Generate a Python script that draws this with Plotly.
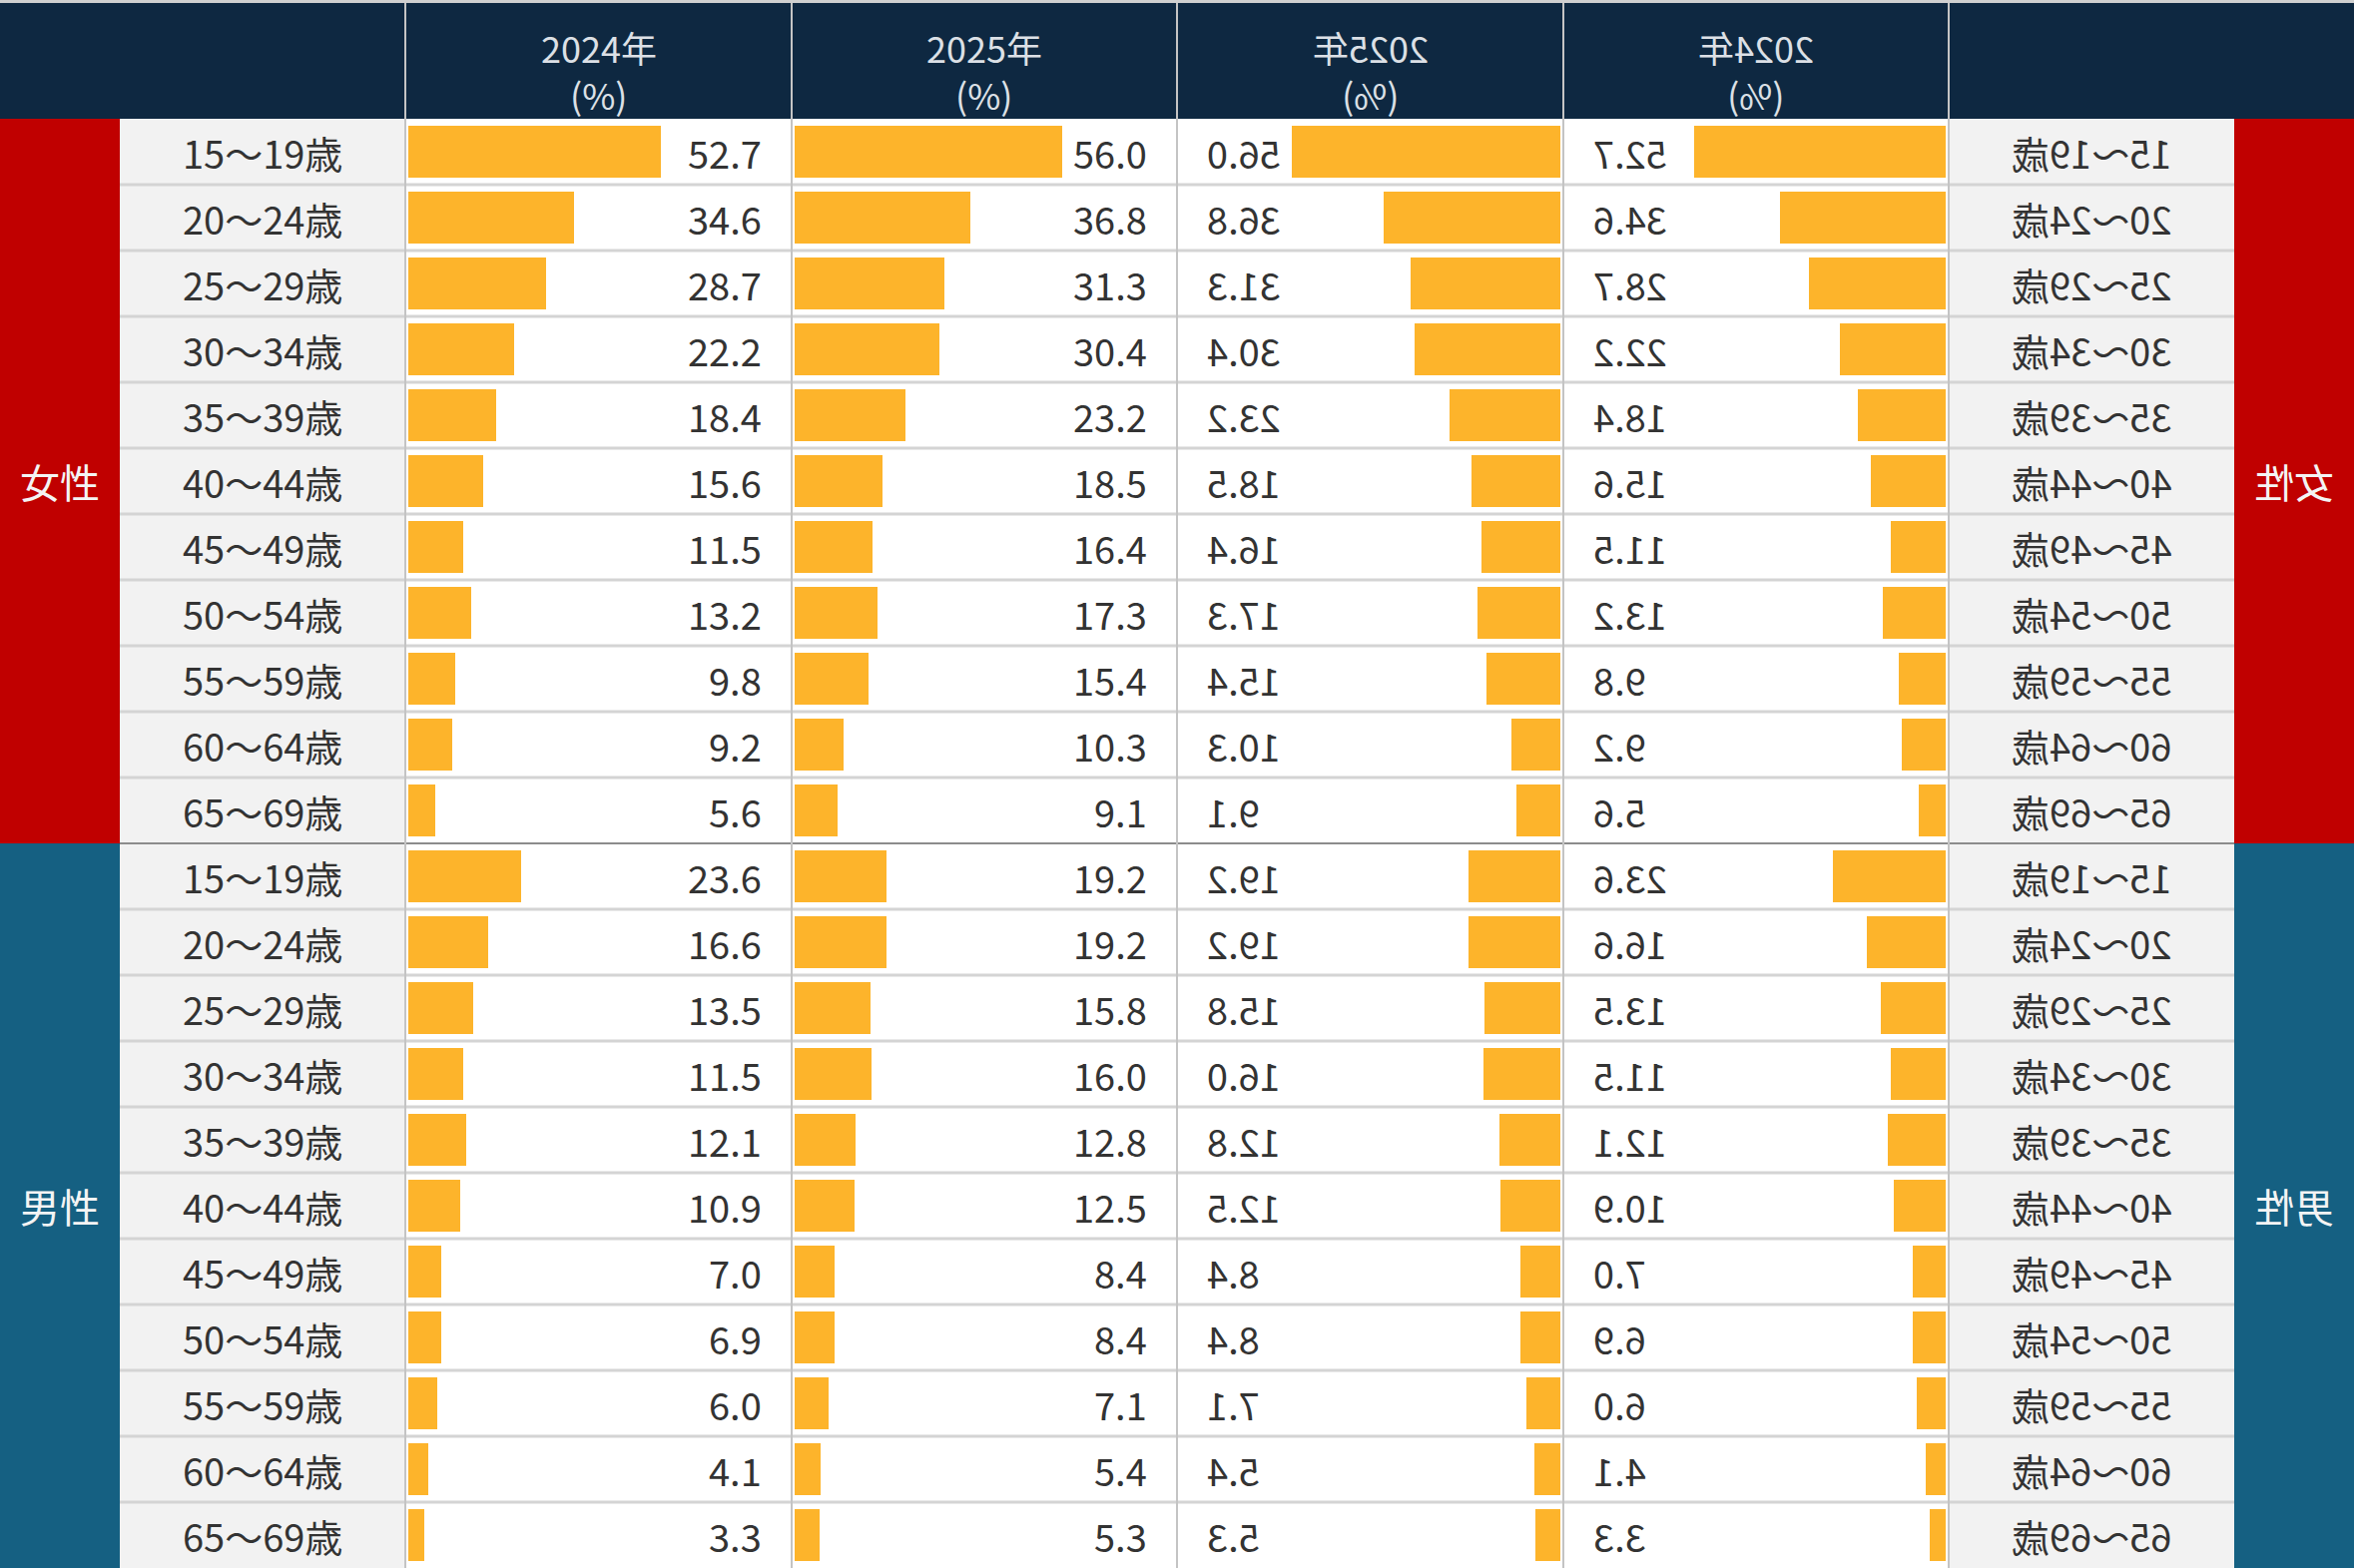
import plotly.graph_objects as go

# --- data ---
ages = ["15〜19歳", "20〜24歳", "25〜29歳", "30〜34歳", "35〜39歳", "40〜44歳",
        "45〜49歳", "50〜54歳", "55〜59歳", "60〜64歳", "65〜69歳"]
genders = ["女性", "男性"]
years = ["2024年", "2025年"]
unit = "(%)"

women_2024 = [52.7, 34.6, 28.7, 22.2, 18.4, 15.6, 11.5, 13.2, 9.8, 9.2, 5.6]
women_2025 = [56.0, 36.8, 31.3, 30.4, 23.2, 18.5, 16.4, 17.3, 15.4, 10.3, 9.1]
men_2024 = [23.6, 16.6, 13.5, 11.5, 12.1, 10.9, 7.0, 6.9, 6.0, 4.1, 3.3]
men_2025 = [19.2, 19.2, 15.8, 16.0, 12.8, 12.5, 8.4, 8.4, 7.1, 5.4, 5.3]

vals_2024 = women_2024 + men_2024
vals_2025 = women_2025 + men_2025
row_labels = ages + ages
rows = list(range(len(row_labels)))
n_w = len(ages)

# --- layout in pixels ---
W, H = 2358, 1571
HEADER = 119
edges = [0, 120, 406, 793, 1179, 1566, 1952, 2238, 2358]
top_rows = 1 - HEADER / H

NAVY = "#0E2841"
RED = "#C00000"
BLUE = "#156082"
BAR = "#FDB42B"
LABEL_BG = "#F2F2F2"
TEXT = "#333333"
FONT = "Noto Sans CJK JP, Noto Sans, sans-serif"


def px(x):
    return x / W


# column layout: (axis, values, year, mirrored)
cols = [
    ("x", vals_2024, years[0], False),
    ("x2", vals_2025, years[1], False),
    ("x3", vals_2025, years[1], True),
    ("x4", vals_2024, years[0], True),
]

fig = go.Figure()

for i, (ax, vals, yr, mirrored) in enumerate(cols):
    fig.add_trace(go.Bar(
        x=vals, y=rows, orientation="h",
        xaxis=ax, yaxis="y",
        width=0.78,
        marker=dict(color=BAR, line=dict(width=0)),
        name=yr, showlegend=False,
        hovertemplate="%{x:.1f}<extra></extra>",
    ))

shapes = []
# header background + top border
shapes.append(dict(type="rect", xref="paper", yref="paper", x0=0, x1=1,
                   y0=top_rows, y1=1, fillcolor=NAVY, line_width=0, layer="below"))
shapes.append(dict(type="rect", xref="paper", yref="paper", x0=0, x1=1,
                   y0=1 - 3 / H, y1=1, fillcolor="#D0D0D0", line_width=0, layer="below"))
# label column backgrounds
for a, b in [(edges[1], edges[2]), (edges[6], edges[7])]:
    shapes.append(dict(type="rect", xref="paper", yref="paper", x0=px(a), x1=px(b),
                       y0=0, y1=top_rows, fillcolor=LABEL_BG, line_width=0, layer="below"))
# gender blocks
for a, b in [(edges[0], edges[1]), (edges[7], edges[8])]:
    shapes.append(dict(type="rect", xref="paper", yref="y", x0=px(a), x1=px(b),
                       y0=-0.5, y1=n_w - 0.5, fillcolor=RED, line_width=0, layer="below"))
    shapes.append(dict(type="rect", xref="paper", yref="y", x0=px(a), x1=px(b),
                       y0=n_w - 0.5, y1=len(rows) - 0.5, fillcolor=BLUE, line_width=0, layer="below"))
# row lines
for r in range(len(rows) - 1):
    sep = r == n_w - 1
    shapes.append(dict(type="line", xref="paper", yref="y", x0=px(edges[1]), x1=px(edges[7]),
                       y0=r + 0.5, y1=r + 0.5, layer="below",
                       line=dict(color="#8C8C8C" if sep else "#D4D4D4", width=2 if sep else 3)))
# column lines
for e in edges[2:7]:
    shapes.append(dict(type="line", xref="paper", yref="paper", x0=px(e), x1=px(e),
                       y0=0, y1=1 - 3 / H, layer="below",
                       line=dict(color="#C4C4C4", width=2)))

annotations = []
flip = []


def add_ann(mirror=False, **kw):
    if mirror:
        flip.append(len(annotations))
    annotations.append(kw)


# header text, two lines kept as separate texts
for i, (ax, vals, yr, mirrored) in enumerate(cols):
    cx = (edges[2 + i] + edges[3 + i]) / 2
    for txt, ty in [(yr, 47), (unit, 94)]:
        add_ann(mirror=mirrored, xref="paper", yref="paper", x=px(cx), y=1 - ty / H,
                text=txt, showarrow=False, xanchor="center", yanchor="middle",
                font=dict(family=FONT, size=36, color="#DCE0E6"))

# gender text
for side, (a, b) in enumerate([(edges[0], edges[1]), (edges[7], edges[8])]):
    for g, gname in enumerate(genders):
        add_ann(mirror=side == 1, xref="paper", yref="y", x=px((a + b) / 2),
                y=g * n_w + (n_w - 1) / 2,
                text=gname, showarrow=False, xanchor="center", yanchor="middle",
                font=dict(family=FONT, size=40, color="#F4F4F4"))

# age labels
for side, (a, b) in enumerate([(edges[1], edges[2]), (edges[6], edges[7])]):
    for r, lab in zip(rows, row_labels):
        add_ann(mirror=side == 1, xref="paper", yref="y", x=px((a + b) / 2), y=r,
                text=lab, showarrow=False, xanchor="center", yanchor="middle",
                font=dict(family=FONT, size=38, color=TEXT))

# value labels
for i, (ax, vals, yr, mirrored) in enumerate(cols):
    for r, v in zip(rows, vals):
        add_ann(mirror=mirrored, xref=ax, yref="y", x=80, y=r,
                text=f"{v:.1f}", showarrow=False,
                xanchor="left" if mirrored else "right",
                xshift=28 if mirrored else -28, yanchor="middle",
                font=dict(family=FONT, size=38, color=TEXT))

layout_axes = {}
for i, (ax, vals, yr, mirrored) in enumerate(cols):
    key = "xaxis" if ax == "x" else "xaxis" + ax[1:]
    layout_axes[key] = dict(
        domain=[px(edges[2 + i]), px(edges[3 + i])],
        range=[80, -0.6] if mirrored else [-0.6, 80],
        visible=False, fixedrange=True, anchor="y",
    )

fig.update_layout(
    width=W, height=H,
    margin=dict(l=0, r=0, t=0, b=0),
    paper_bgcolor="white",
    plot_bgcolor="rgba(0,0,0,0)",
    bargap=0,
    yaxis=dict(domain=[0, top_rows], range=[len(rows) - 0.5, -0.5],
               visible=False, fixedrange=True, anchor="x"),
    shapes=shapes,
    annotations=annotations,
    showlegend=False,
    **layout_axes,
)

# the right half of the table is a mirror image, text included
post = """
document.body.style.margin = '0';
var gd = document.getElementById('{plot_id}');
var flipIdx = %s;
function flipText() {
  gd.querySelectorAll('g.annotation').forEach(function(g) {
    var i = parseInt(g.getAttribute('data-index'));
    if (flipIdx.indexOf(i) >= 0) {
      var t = g.querySelector('text');
      if (t) {
        t.style.transformBox = 'fill-box';
        t.style.transformOrigin = 'center';
        t.style.transform = 'scaleX(-1)';
      }
    }
  });
}
flipText();
gd.on('plotly_afterplot', flipText);
""" % str(flip)

fig.write_html("out.html", post_script=post, config={"displayModeBar": False})
